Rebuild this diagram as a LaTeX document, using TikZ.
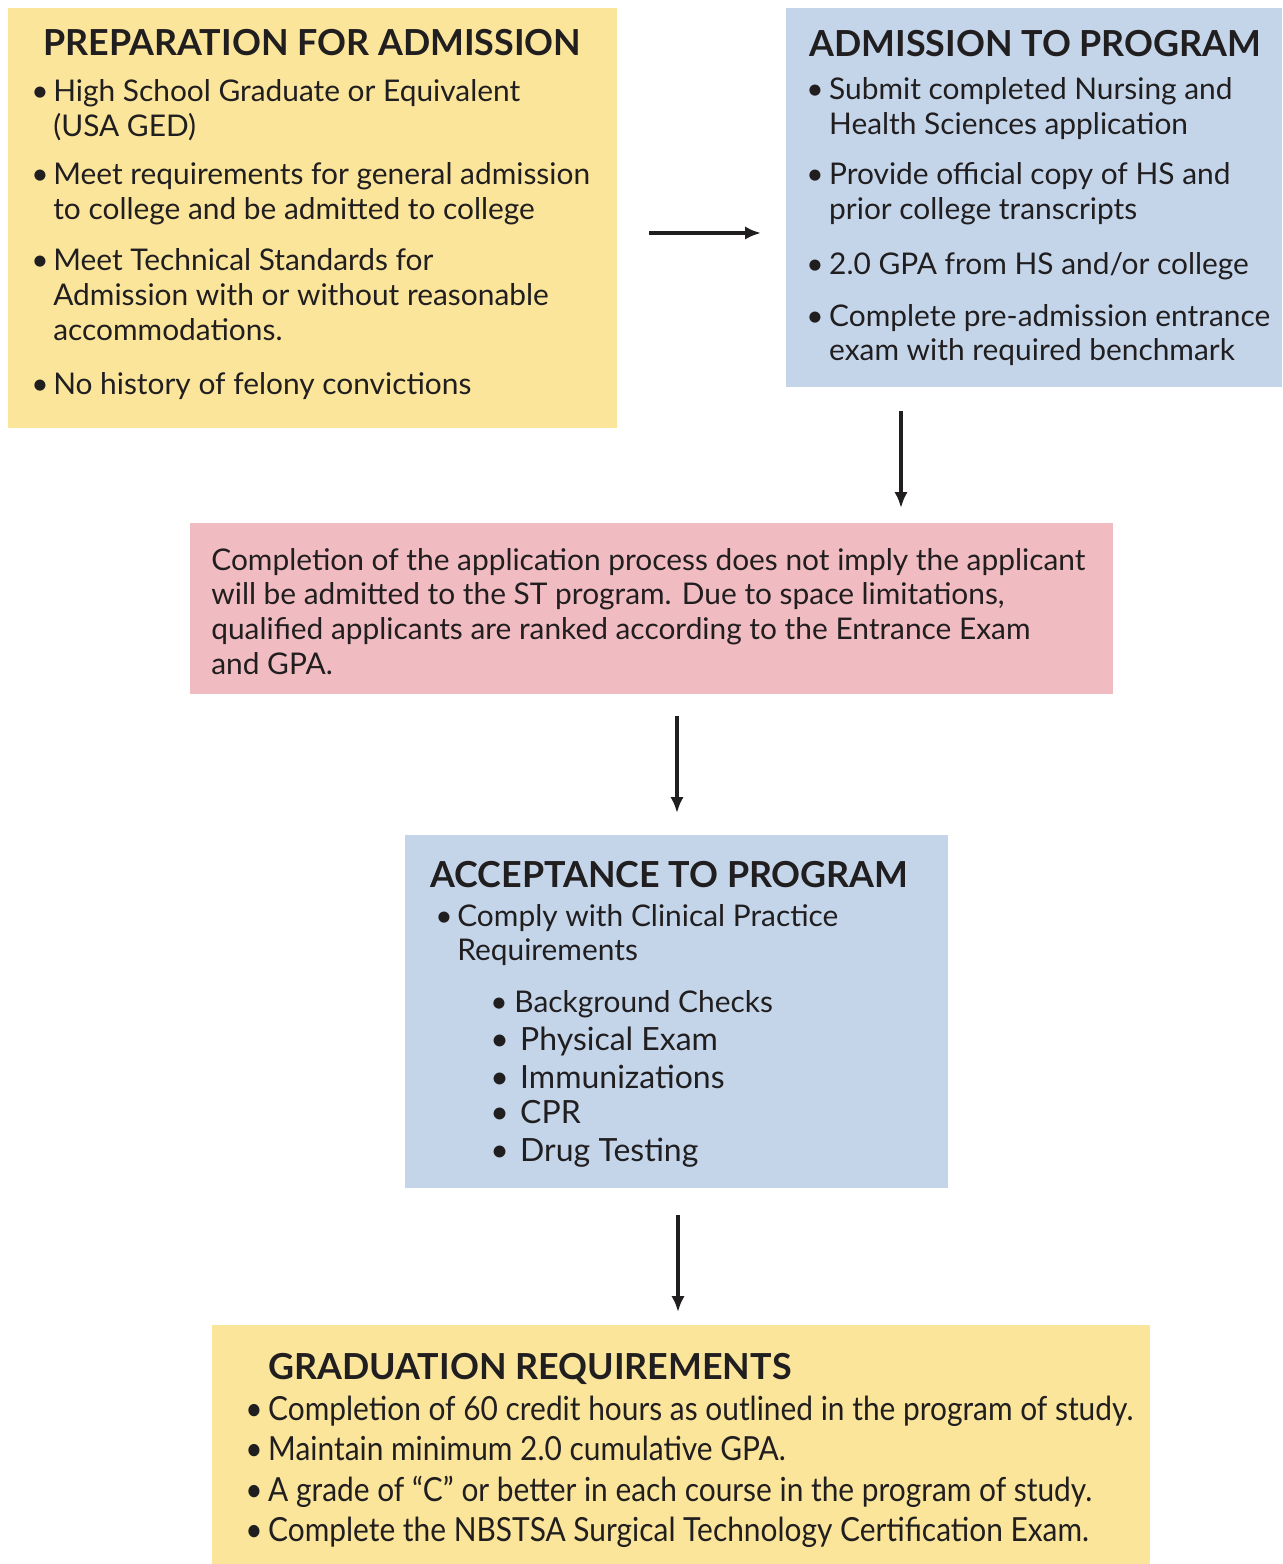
\documentclass[tikz,border=0pt]{standalone}
\usepackage{fontspec}
\setmainfont{Lato}
\newfontfamily\NarrowFont[FakeStretch=0.9]{Lato}
\usepackage{xcolor}
\definecolor{ColY}{RGB}{250,229,155}
\definecolor{ColB}{RGB}{196,213,234}
\definecolor{ColP}{RGB}{240,188,193}
\definecolor{ColT}{RGB}{33,30,32}
\usetikzlibrary{fit}
\usetikzlibrary{arrows.meta}
\tikzstyle{Box}=[inner sep=0pt,draw=none]
\tikzstyle{Title}=[anchor=base west,inner sep=0pt,text=ColT,
font=\bfseries\fontsize{20.4}{24}\selectfont]
\tikzstyle{Body}=[anchor=base west,inner sep=0pt,align=left,text=ColT,
font=\fontsize{17}{19.9}\selectfont]
\tikzstyle{BodyL}=[Body,font=\fontsize{18.2}{21}\selectfont]
\tikzstyle{BodyN}=[Body,font=\NarrowFont\fontsize{18.9}{22}\selectfont]
\tikzstyle{Arrow}=[-{Latex[length=9pt,width=7.5pt]},line width=1.9pt,draw=ColT]
\newcommand{\Bul}[2]{\begin{tabular}[t]{@{}p{#1}@{}l@{}}\textbullet&#2\end{tabular}}

\begin{document}
\begin{tikzpicture}[x=0.02cm,y=-0.02cm]
            \useasboundingbox(0,0)rectangle(1282,1564);
            % boxes
            \coordinate(p1)at(8,8);\coordinate(p2)at(617,428);
            \coordinate(a1)at(786,8);\coordinate(a2)at(1282,387);
            \coordinate(n1)at(190,523);\coordinate(n2)at(1113,694);
            \coordinate(c1)at(405,835);\coordinate(c2)at(948,1188);
            \coordinate(g1)at(212,1325);\coordinate(g2)at(1150,1564);
            \node[Box,fit=(p1)(p2),fill=ColY](prep){};
            \node[Box,fit=(a1)(a2),fill=ColB](adm){};
            \node[Box,fit=(n1)(n2),fill=ColP](note){};
            \node[Box,fit=(c1)(c2),fill=ColB](acc){};
            \node[Box,fit=(g1)(g2),fill=ColY](grad){};
            %
            \node[Title](prepT)at(43,56){PREPARATION FOR ADMISSION};
            \node[Body](prepA)at(31,102)
                {\Bul{12.5pt}{High School Graduate or Equivalent\\&(USA GED)}};
            \node[Body](prepB)at(31,185)
                {\Bul{12.5pt}{Meet requirements for general admission\\&to college and be admitted to college}};
            \node[Body](prepC)at(31,271)
                {\Bul{12.5pt}{Meet Technical Standards for\\&Admission with or without reasonable\\&accommodations.}};
            \node[Body](prepD)at(31,394)
                {\Bul{12.5pt}{No history of felony convictions}};
            %
            \node[Title](admT)at(809,57){ADMISSION TO PROGRAM};
            \node[Body](admA)at(806,100)
                {\Bul{13pt}{Submit completed Nursing and\\&Health Sciences application}};
            \node[Body](admB)at(806,185)
                {\Bul{13pt}{Provide official copy of HS and\\&prior college transcripts}};
            \node[Body](admC)at(806,275)
                {\Bul{13pt}{2.0 GPA from HS and/or college}};
            \node[Body](admD)at(806,326)
                {\Bul{13pt}{Complete pre-admission entrance\\&exam with required benchmark}};
            %
            \node[Body](noteT)at(211,570)
                {\begin{tabular}[t]{@{}l@{}}
                Completion of the application process does not imply the applicant\\
                will be admitted to the ST program. Due to space limitations,\\
                qualified applicants are ranked according to the Entrance Exam\\
                and GPA.\end{tabular}};
            %
            \node[Title](accT)at(430,887){ACCEPTANCE TO PROGRAM};
            \node[Body](accA)at(435,926)
                {\Bul{12.5pt}{Comply with Clinical Practice\\&Requirements}};
            \node[Body](accB)at(490,1012){\Bul{13.7pt}{Background Checks}};
            \node[BodyL](accC)at(490,1050){\Bul{17pt}{Physical Exam}};
            \node[BodyL](accD)at(490,1088){\Bul{17pt}{Immunizations}};
            \node[BodyL](accE)at(490,1123){\Bul{17pt}{CPR}};
            \node[BodyL](accF)at(490,1161){\Bul{17pt}{Drug Testing}};
            %
            \node[Title](gradT)at(268,1379){GRADUATION REQUIREMENTS};
            \node[BodyN](gradA)at(245,1420)
                {\Bul{13pt}{Completion of 60 credit hours as outlined in the program of study.}};
            \node[BodyN](gradB)at(245,1460)
                {\Bul{13pt}{Maintain minimum 2.0 cumulative GPA.}};
            \node[BodyN](gradC)at(245,1501)
                {\Bul{13pt}{A grade of “C” or better in each course in the program of study.}};
            \node[BodyN](gradD)at(245,1541)
                {\Bul{13pt}{Complete the NBSTSA Surgical Technology Certification Exam.}};
            % arrows
            \coordinate(h1)at(649,233);\coordinate(h2)at(761,233);
            \coordinate(v1)at(901,411);\coordinate(v2)at(901,508);
            \coordinate(v3)at(677,716);\coordinate(v4)at(677,813);
            \coordinate(v5)at(678,1215);\coordinate(v6)at(678,1312);
            \draw[Arrow](h1)--(h2);
            \draw[Arrow](v1)--(v2);
            \draw[Arrow](v3)--(v4);
            \draw[Arrow](v5)--(v6);
\end{tikzpicture}
\end{document}
